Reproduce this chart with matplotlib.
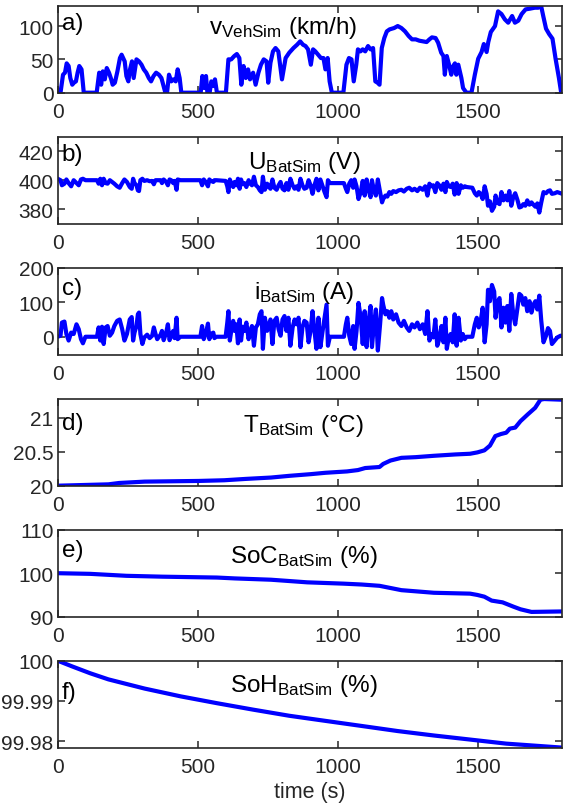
import numpy as np
import matplotlib
matplotlib.use("Agg")
import matplotlib.pyplot as plt

plt.rcParams['font.family'] = ['Liberation Sans', 'DejaVu Sans']
plt.rcParams['mathtext.fontset'] = 'custom'
plt.rcParams['mathtext.rm'] = 'Liberation Sans'

# vehicle speed (km/h)
t_v = [0, 10, 19, 26, 32, 39, 45, 52, 58, 65, 71, 77, 85, 93, 139, 148, 155, 161, 168, 175,
       183, 191, 196, 204, 213, 222, 228, 239, 245, 252, 258, 265, 271, 281, 290, 299, 307,
       316, 325, 333, 342, 351, 361, 370, 377, 384, 390, 397, 405, 413, 421, 428, 435, 441,
       510, 516, 523, 529, 534, 542, 548, 555, 561, 568, 600, 609, 619, 630, 639, 648, 655,
       663, 671, 679, 686, 697, 706, 716, 725, 735, 745, 751, 759, 768, 777, 787, 794, 800,
       813, 826, 841, 854, 865, 875, 884, 893, 903, 911, 919, 929, 939, 948, 955, 963, 970,
       978, 1019, 1030, 1039, 1048, 1056, 1065, 1071, 1080, 1088, 1097, 1107, 1116, 1125,
       1133, 1141, 1148, 1156, 1165, 1174, 1184, 1200, 1213, 1226, 1239, 1252, 1264, 1277,
       1290, 1303, 1316, 1326, 1335, 1348, 1357, 1368, 1376, 1381, 1388, 1396, 1404, 1411,
       1417, 1422, 1429, 1440, 1446, 1458, 1476, 1488, 1500, 1512, 1520, 1530, 1536, 1545,
       1560, 1571, 1583, 1595, 1607, 1621, 1631, 1643, 1655, 1669, 1684, 1702, 1714, 1724,
       1732, 1742, 1753, 1765, 1776, 1788, 1796, 1800]
v_veh = [0, 0, 27, 30, 44, 40, 22, 12, 15, 17, 30, 40, 35, 0, 0, 30, 12, 32, 20, 37,
         30, 20, 12, 15, 32, 52, 57, 47, 25, 17, 35, 47, 22, 50, 47, 42, 35,
         30, 22, 17, 25, 30, 27, 22, 11, 0, 0, 27, 17, 20, 17, 35, 22, 0,
         0, 25, 7, 25, 0, 0, 17, 10, 20, 0, 0, 50, 50, 55, 58, 52, 12,
         40, 22, 35, 20, 30, 12, 30, 42, 50, 47, 15, 45, 62, 67, 62, 40, 20,
         52, 60, 67, 72, 77, 72, 70, 65, 42, 65, 62, 57, 52, 52, 35, 52, 17,
         0, 0, 42, 52, 50, 17, 42, 65, 62, 65, 62, 70, 65, 67,
         17, 15, 12, 67, 82, 92, 95, 97, 100, 97, 92, 85, 80, 80,
         78, 77, 76, 80, 83, 82, 75, 60, 55, 27, 55, 42, 27, 40,
         44, 27, 42, 22, 7, 0, 0, 27, 51, 61, 73, 61, 76, 91,
         100, 122, 118, 110, 105, 115, 105, 108, 118, 125, 126, 127.5, 127.5, 131,
         115, 96, 88, 81, 51, 22, 0, 0]

# battery current (A)
t_i = [0, 10, 15, 24, 31, 39, 48, 57, 67, 75, 83, 90, 99, 140, 146, 152, 158, 164, 171, 178,
       186, 194, 202, 212, 221, 230, 238, 247, 257, 264, 269, 274, 281, 286, 290, 295, 302,
       309, 319, 328, 337, 343, 349, 355, 367, 372, 378, 387, 393, 399, 405, 412, 417, 424,
       428, 438, 509, 515, 521, 528, 536, 541, 547, 555, 559, 566, 599, 605, 609, 614, 620,
       626, 631, 637, 643, 649, 654, 660, 666, 673, 681, 685, 693, 700, 707, 714, 721, 727,
       732, 739, 747, 754, 759, 766, 773, 781, 788, 795, 802, 809, 816, 823, 830, 838, 845,
       852, 859, 866, 873, 880, 888, 895, 902, 909, 916, 923, 930, 937, 945, 952, 959, 964,
       971, 1021, 1028, 1033, 1040, 1047, 1054, 1059, 1066, 1073, 1081, 1088, 1095, 1102,
       1109, 1116, 1121, 1128, 1135, 1142, 1150, 1157, 1161, 1169, 1176, 1183, 1190, 1197,
       1207, 1216, 1226, 1235, 1245, 1254, 1264, 1273, 1283, 1292, 1302, 1311, 1319, 1326,
       1333, 1340, 1347, 1354, 1361, 1369, 1376, 1383, 1388, 1395, 1402, 1409, 1416, 1423,
       1430, 1438, 1445, 1452, 1459, 1479, 1488, 1495, 1502, 1509, 1516, 1523, 1530, 1535,
       1542, 1549, 1557, 1562, 1568, 1576, 1583, 1590, 1597, 1604, 1611, 1618, 1625, 1632,
       1640, 1647, 1654, 1661, 1668, 1675, 1683, 1690, 1697, 1704, 1711, 1718, 1725, 1733,
       1742, 1749, 1756, 1763, 1773, 1782, 1794, 1800]
i_bat = [0, 3, 41, 44, 8, -11, 12, 8, 36, 22, -7, -19, 0, 0, 27, -11, 29, -21, 27, 31,
         3, 12, 31, 46, 50, 22, -11, 8, 50, 57, -11, 12, 31, 65, 70, 8, -21,
         -2, 6, -4, 3, 27, 8, -7, 6, 17, -10, 12, 36, -10, 3, 17, -4, 55,
         -7, 0, 0, 31, -7, 8, 38, -7, 8, 12, -4, 0, 0, 41, 74, -11, 22,
         46, 17, 36, -19, 50, -11, 29, 17, 41, -7, 12, 31, -26, 27, 36, 65, 74,
         -35, 55, 17, 36, 50, -21, 46, 55, 22, 3, 50, 60, 17, 55, -26, 27, 50,
         36, 55, -30, 27, 46, 41, -16, 17, 74, 17, -35, 55, -30, 17, 55, 93, -26,
         0, 0, 36, 55, 3, -21, 31, -35, 17, 98, 55, -21, 74, -30,
         46, 89, -30, 36, 79, -40, 36, 112, 93, 65, 74, 55, 74, 50,
         65, 41, 31, 46, 27, 17, 36, 27, 41, 22, 36, 8, 74, -11,
         8, -2, 50, -26, -7, 31, -16, 55, -35, -2, 8, -16, 65, -26,
         55, -11, 8, -7, 0, 0, 36, 55, 27, 46, 84, -16, 36, 136,
         103, 150, 131, 55, 98, 112, 27, 84, 41, 89, 17, 124, 65, 36,
         84, 124, 119, 93, 112, 74, 103, 70, 93, 103, 79, 119, 46, -16,
         3, 25, 17, -21, -11, -2, 3, 3]

# battery voltage (V), sampled at the same instants as the current
u_bat = [401, 400, 396.5, 397.6, 400.5, 398, 395.8, 400, 398, 396.5, 400.5, 401, 400, 400, 397.6, 401, 396.5, 401, 398, 397.6,
         400, 398.8, 397.6, 395.8, 394.8, 398, 400.5, 398.8, 395.3, 394.1, 401, 398, 396.5, 393, 392.5, 400, 401,
         399.5, 400, 399.3, 399.5, 397.2, 400, 400, 400, 398, 400.5, 398.8, 396.5, 400.5, 400, 398, 399.5, 393.4,
         400.5, 400, 400, 396.5, 400.5, 398.8, 395.8, 400.5, 399.5, 398.8, 400, 400, 399.5, 395.8, 391.8, 400.5, 397.6,
         395.3, 398.8, 396.5, 401, 394.1, 400.5, 397.2, 398, 395.3, 400, 398, 396.5, 402.4, 396.5, 395.3, 393, 391.8,
         402.4, 393.4, 397.6, 395.3, 394.1, 400.5, 394.8, 393.4, 396.5, 398.8, 394.1, 393, 398, 393.4, 401, 396.5, 394.1,
         395.8, 393.4, 401, 396.5, 394.1, 394.8, 400, 396.5, 390.6, 396.5, 401, 393, 400.5, 395.8, 391.8, 388.3, 400,
         398, 398, 394.1, 391.8, 397.6, 400, 394.8, 400.5, 395.8, 387, 391.8, 399.5, 389.4, 400.5,
         393, 388.3, 400, 393, 389.4, 400.5, 391.8, 384.7, 387, 389.4, 388.7, 391.8, 390.6, 392.5,
         391.8, 393, 393.4, 392.2, 394.1, 394.8, 393, 394.1, 392.5, 394.8, 393.4, 395.8, 389.4, 397.6,
         395.8, 396.5, 391.8, 398, 396.5, 393.4, 397.6, 391.8, 398.8, 395.8, 395.3, 397.6, 390.1, 398,
         390.6, 396.5, 394.8, 395.8, 395.3, 394.8, 391, 389.4, 391.8, 390.6, 387, 395.8, 390.6, 382.4,
         385.4, 378.9, 381.7, 389.4, 384.7, 383.5, 391.8, 386.1, 389.4, 386.1, 392.5, 382.4, 388.3, 391,
         386.4, 381.2, 381.7, 383.5, 382.4, 386.1, 383.1, 384.7, 383.1, 381.7, 384, 377.7, 384.7, 391.8,
         391, 392.5, 393, 390.6, 391, 391.8, 391, 390.6]

# battery temperature (degC)
t_T = [0, 181, 219, 310, 503, 594, 671, 761, 826, 903, 955, 1032, 1071, 1097, 1148, 1161, 1187,
       1226, 1277, 1342, 1419, 1471, 1497, 1522, 1542, 1561, 1581, 1600, 1613, 1632, 1651, 1677,
       1703, 1722, 1735, 1800]
T_bat = [20.0, 20.02, 20.04, 20.06, 20.07, 20.08, 20.10, 20.12, 20.145, 20.17, 20.19, 20.21, 20.23,
         20.26, 20.275, 20.32, 20.37, 20.41, 20.42, 20.44, 20.46, 20.47, 20.49, 20.52, 20.59, 20.73,
         20.76, 20.78, 20.84, 20.855, 20.95, 21.05, 21.145, 21.265, 21.275, 21.265]

# state of charge (%)
t_soc = [0, 116, 245, 374, 568, 632, 761, 826, 890, 1019, 1084, 1148, 1187, 1226, 1342, 1471,
         1497, 1522, 1548, 1587, 1626, 1651, 1690, 1791]
soc = [100, 99.85, 99.4, 99.2, 99.0, 98.8, 98.5, 98.2, 97.9, 97.6, 97.4, 97.1, 96.6, 96.1, 95.5,
       95.3, 95.0, 94.6, 93.7, 93.3, 92.3, 91.7, 91.1, 91.2]

# state of health (%)
t_soh = [0, 52, 116, 181, 310, 439, 568, 697, 826, 955, 1084, 1213, 1342, 1471, 1600, 1800]
soh = [100, 99.99857, 99.99688, 99.99536, 99.99308, 99.99114, 99.98945, 99.98785, 99.98633,
       99.98506, 99.98380, 99.98253, 99.98143, 99.98042, 99.97941, 99.97842]

panels = [
    (t_v, v_veh, r'$\mathregular{v_{VehSim}}$ (km/h)', 'a)', (0, 130.5), [0, 50, 100], ['0', '50', '100']),
    (t_i, u_bat, r'$\mathregular{U_{BatSim}}$ (V)', 'b)', (370, 430), [380, 400, 420], ['380', '400', '420']),
    (t_i, i_bat, r'$\mathregular{i_{BatSim}}$ (A)', 'c)', (-52, 200), [0, 100, 200], ['0', '100', '200']),
    (t_T, T_bat, r'$\mathregular{T_{BatSim}}$ (°C)', 'd)', (20, 21.28), [20, 20.5, 21], ['20', '20.5', '21']),
    (t_soc, soc, r'$\mathregular{SoC_{BatSim}}$ (%)', 'e)', (90, 110), [90, 100, 110], ['90', '100', '110']),
    (t_soh, soh, r'$\mathregular{SoH_{BatSim}}$ (%)', 'f)', (99.9784, 100), [99.98, 99.99, 100],
     ['99.98', '99.99', '100']),
]
title_pos = [(0.447, 0.685), (0.488, 0.636), (0.488, 0.652), (0.488, 0.628), (0.488, 0.63), (0.488, 0.65)]
letter_y = [0.80, 0.80, 0.77, 0.72, 0.77, 0.645]

W, H = 568, 804
fig = plt.figure(figsize=(W / 100, H / 100), dpi=100)
edge = '#262626'

for k, (tt, yy, name, letter, ylim, yt, ytl) in enumerate(panels):
    top = 6.7 + 131 * k
    ax = fig.add_axes([57.7 / W, 1 - (top + 87) / H, 504.6 / W, 87 / H])
    ax.plot(tt, yy, color='#0000ff', lw=3)
    ax.set_xlim(0, 1800)
    ax.set_ylim(*ylim)
    ax.set_xticks([0, 500, 1000, 1500])
    ax.set_yticks(yt)
    ax.set_yticklabels(ytl)
    ax.tick_params(direction='in', top=True, right=True, length=5, width=1.1,
                   color=edge, labelcolor=edge, labelsize=15)
    ax.tick_params(axis='x', pad=7)
    ax.tick_params(axis='y', pad=3)
    for s in ax.spines.values():
        s.set_color(edge)
        s.set_linewidth(1.2)
    tx, ty = title_pos[k]
    ax.text(tx, ty, name, transform=ax.transAxes, ha='center', va='baseline',
            fontsize=17.5, color='black')
    ax.text(0.008, letter_y[k], letter, transform=ax.transAxes, ha='left', va='center',
            fontsize=17.5, color='black')
    if k == 5:
        ax.set_xlabel('time (s)', fontsize=15.5, color=edge, labelpad=3)

fig.savefig('out.png', dpi=100)
